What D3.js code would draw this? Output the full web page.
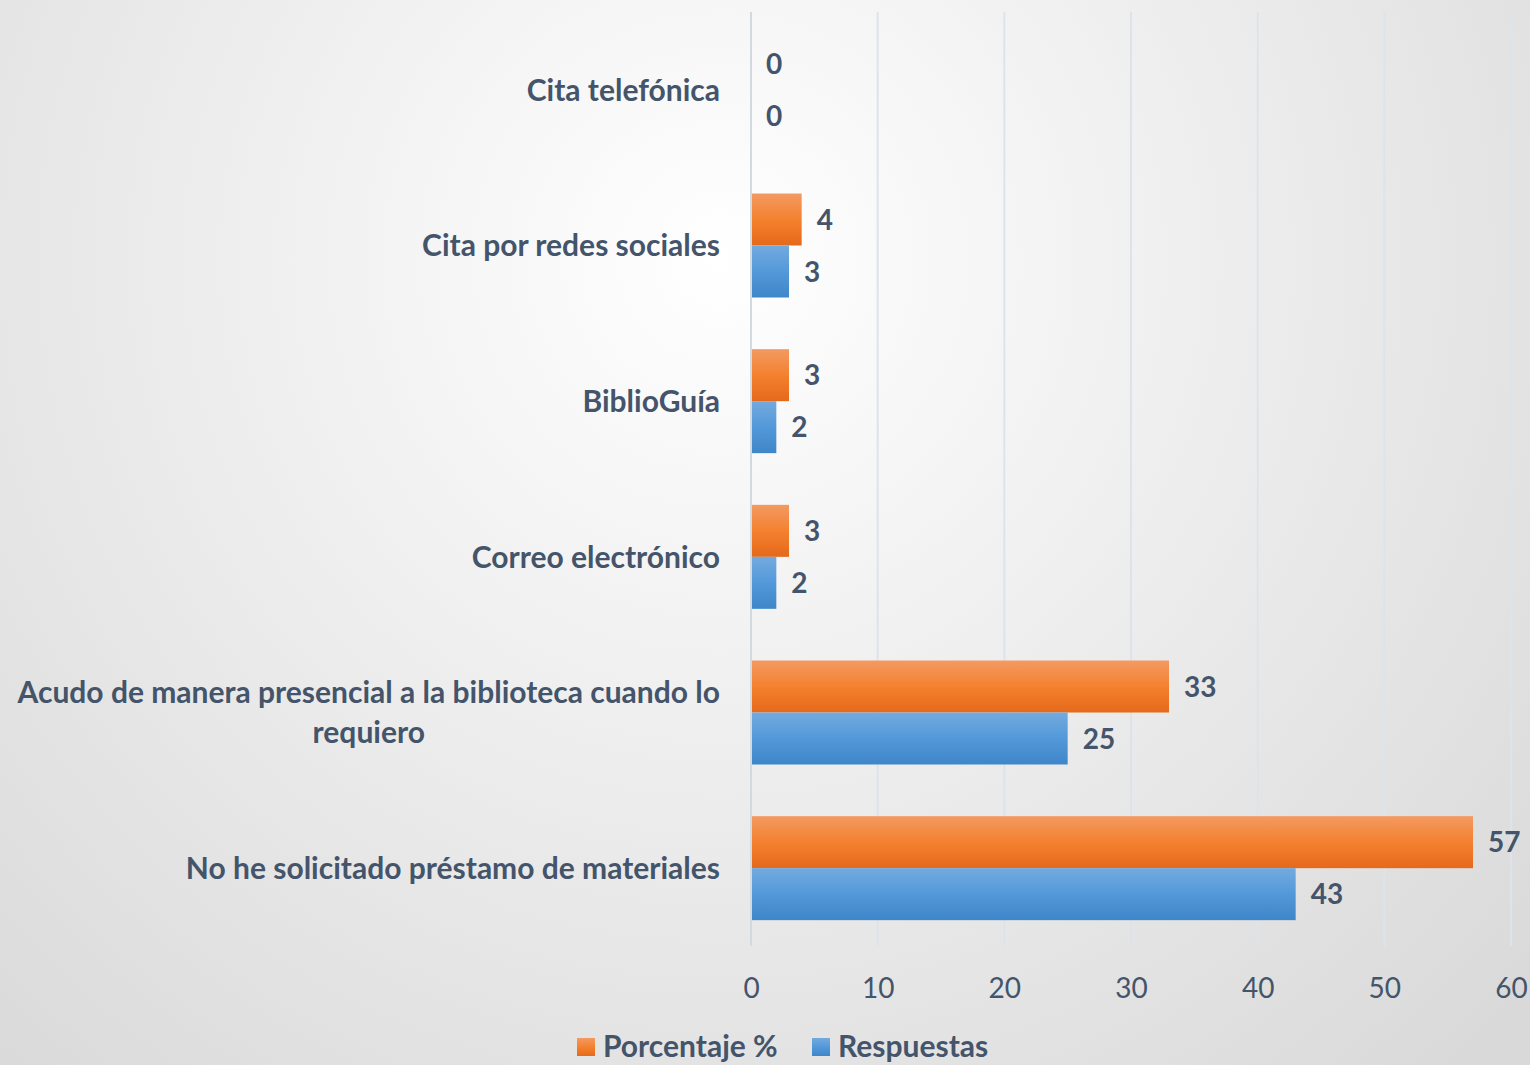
<!DOCTYPE html>
<html lang="es">
<head>
<meta charset="UTF-8">
<script src="https://cdn.jsdelivr.net/npm/d3@7"></script>
<style>
  html, body { margin: 0; padding: 0; overflow: hidden; }
  body { width: 1530px; height: 1065px; }
  svg text { font-family: Lato, "Open Sans", sans-serif; }
</style>
</head>
<body>
<div id="chart"></div>
<script>
// categories, top to bottom
const categories = [
    "Cita telefónica",
    "Cita por redes sociales",
    "BiblioGuía",
    "Correo electrónico",
    "Acudo de manera presencial a la biblioteca cuando lo requiero",
    "No he solicitado préstamo de materiales"
];
// label lines (the long one wraps in two)
const categoryLines = [
    ["Cita telefónica"],
    ["Cita por redes sociales"],
    ["BiblioGuía"],
    ["Correo electrónico"],
    ["Acudo de manera presencial a la biblioteca cuando lo", "requiero"],
    ["No he solicitado préstamo de materiales"]
];
const seriesNames = ["Porcentaje %", "Respuestas"];
const porcentaje = [0, 4, 3, 3, 33, 57];
const respuestas = [0, 3, 2, 2, 25, 43];
const xTicks = [0, 10, 20, 30, 40, 50, 60];

const width = 1530, height = 1065;
const margin = { top: 12, right: 19, bottom: 119, left: 751 };
const textColor = "#44546A";

const svg = d3.select("#chart").append("svg")
    .attr("width", width)
    .attr("height", height);

const defs = svg.append("defs");

// background radial gradient
const bg = defs.append("radialGradient")
    .attr("id", "bg")
    .attr("gradientUnits", "userSpaceOnUse")
    .attr("cx", 720).attr("cy", 260).attr("r", 1100);
bg.append("stop").attr("offset", "0%").attr("stop-color", "#ffffff");
bg.append("stop").attr("offset", "100%").attr("stop-color", "#d9d9d9");

const orangeGrad = defs.append("linearGradient")
    .attr("id", "orange").attr("x1", 0).attr("y1", 0).attr("x2", 0).attr("y2", 1);
orangeGrad.append("stop").attr("offset", "0%").attr("stop-color", "#F39A62");
orangeGrad.append("stop").attr("offset", "50%").attr("stop-color", "#F4812F");
orangeGrad.append("stop").attr("offset", "100%").attr("stop-color", "#E5691A");

const blueGrad = defs.append("linearGradient")
    .attr("id", "blue").attr("x1", 0).attr("y1", 0).attr("x2", 0).attr("y2", 1);
blueGrad.append("stop").attr("offset", "0%").attr("stop-color", "#73AADE");
blueGrad.append("stop").attr("offset", "50%").attr("stop-color", "#5399DA");
blueGrad.append("stop").attr("offset", "100%").attr("stop-color", "#3E86C8");

svg.append("rect")
    .attr("width", width).attr("height", height)
    .attr("fill", "url(#bg)");

const plotW = width - margin.left - margin.right;
const plotH = height - margin.top - margin.bottom;

const x = d3.scaleLinear().domain([0, 60]).range([margin.left, margin.left + plotW]);
const y = d3.scaleBand().domain(categories).range([margin.top, margin.top + plotH])
    .paddingInner(0.332).paddingOuter(0.166);
const sub = d3.scaleBand().domain(seriesNames).range([0, y.bandwidth()]);

// gridlines
svg.append("g")
    .selectAll("line")
    .data(xTicks)
    .join("line")
    .attr("x1", d => x(d)).attr("x2", d => x(d))
    .attr("y1", margin.top).attr("y2", margin.top + plotH)
    .attr("stroke", d => d === 0 ? "#D3D9E2" : "#DEE3EA")
    .attr("stroke-width", 2);

// x axis tick labels
const xAxis = d3.axisBottom(x).tickValues(xTicks).tickSize(0).tickPadding(0);
const gx = svg.append("g")
    .attr("transform", `translate(0, ${margin.top + plotH + 52})`)
    .call(xAxis);
gx.select(".domain").remove();
gx.selectAll("text")
    .attr("dy", 0)
    .attr("fill", textColor)
    .style("font-size", "28px")
    .style("font-family", "Lato, sans-serif");

// bars
const rows = categories.map((c, i) => ({ cat: c, values: [porcentaje[i], respuestas[i]] }));
const fills = ["url(#orange)", "url(#blue)"];

const groups = svg.append("g").selectAll("g")
    .data(rows)
    .join("g")
    .attr("transform", d => `translate(0, ${y(d.cat)})`);

groups.selectAll("rect")
    .data(d => d.values.map((v, j) => ({ v, s: seriesNames[j], j })))
    .join("rect")
    .attr("x", x(0) + 1)
    .attr("y", d => sub(d.s))
    .attr("width", d => Math.max(0, x(d.v) - x(0) - 1))
    .attr("height", sub.bandwidth())
    .attr("fill", d => fills[d.j]);

groups.selectAll("text.val")
    .data(d => d.values.map((v, j) => ({ v, s: seriesNames[j] })))
    .join("text")
    .attr("class", "val")
    .attr("x", d => x(d.v) + 15)
    .attr("y", d => sub(d.s) + sub.bandwidth() / 2)
    .attr("dy", "0.36em")
    .attr("fill", textColor)
    .style("font-size", "28px")
    .style("font-weight", "bold")
    .text(d => d.v);

// category labels
const lineH = 40;
const lab = svg.append("g").selectAll("text")
    .data(categories)
    .join("text")
    .attr("fill", textColor)
    .style("font-size", "30px")
    .style("font-weight", "bold");

lab.each(function(d, i) {
    const lines = categoryLines[i];
    const t = d3.select(this);
    const cy = y(d) + y.bandwidth() / 2;
    if (lines.length === 1) {
        t.attr("x", 720).attr("y", cy).attr("text-anchor", "end").attr("dy", "0.36em").text(lines[0]);
    } else {
        // centered block, right aligned at 720
        t.attr("text-anchor", "middle");
        const tmp = t.append("tspan").text(lines[0]);
        const w = tmp.node().getComputedTextLength();
        tmp.remove();
        const cx = 720 - w / 2;
        lines.forEach((ln, k) => {
            t.append("tspan")
                .attr("x", cx)
                .attr("y", cy + (k - (lines.length - 1) / 2) * lineH)
                .attr("dy", "0.36em")
                .text(ln);
        });
    }
});

// legend
const legend = svg.append("g").attr("transform", "translate(577, 1046)");
const legendX = [0, 235];
seriesNames.forEach((s, i) => {
    const g = legend.append("g").attr("transform", `translate(${legendX[i]}, 0)`);
    g.append("rect")
        .attr("x", 0).attr("y", -8)
        .attr("width", 18).attr("height", 18)
        .attr("fill", fills[i]);
    g.append("text")
        .attr("x", 26).attr("y", 0).attr("dy", "0.36em")
        .attr("fill", textColor)
        .style("font-size", "30px")
        .style("font-weight", "bold")
        .text(s);
});
</script>
</body>
</html>
